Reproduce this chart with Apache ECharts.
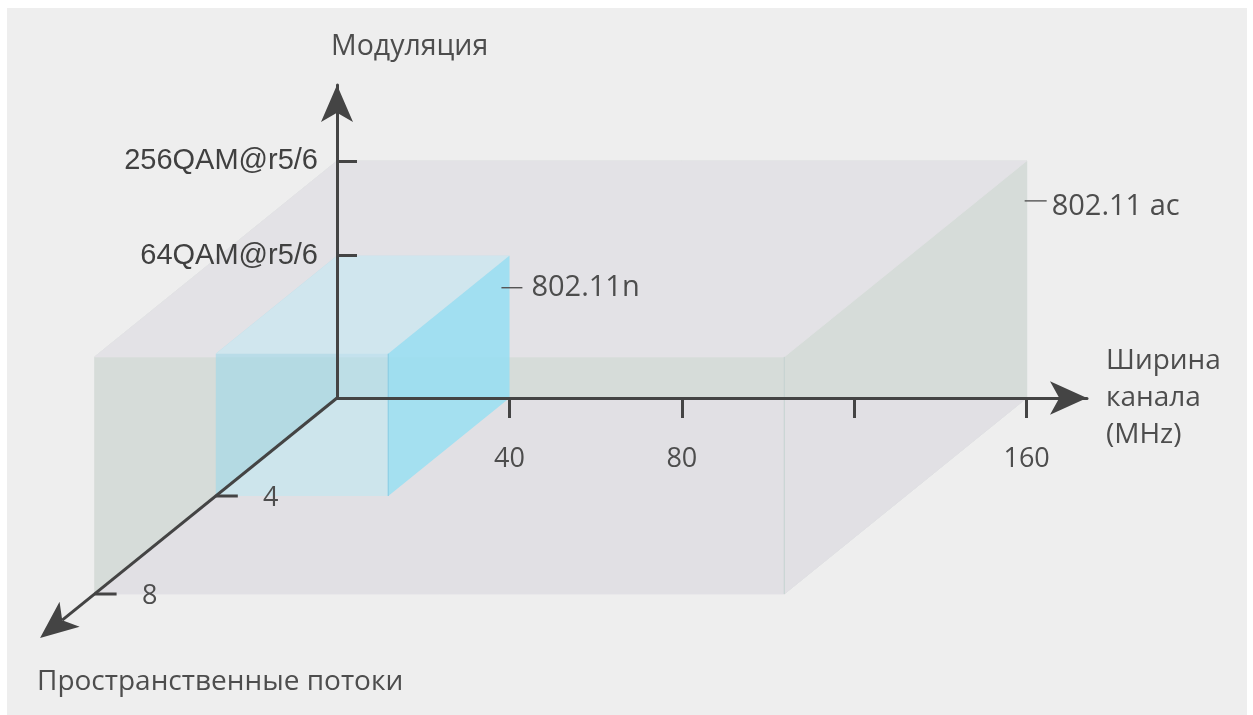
<!DOCTYPE html>
<html>
<head>
<meta charset="utf-8">
<script src="https://cdn.jsdelivr.net/npm/echarts@6/dist/echarts.min.js"></script>
<style>
html,body{margin:0;padding:0;background:#ffffff;}
#bg{position:absolute;left:7px;top:8px;width:1240px;height:707px;background:#eeeeee;}
#chart{position:absolute;left:0;top:0;width:1253px;height:715px;}
</style>
</head>
<body>
<div id="bg"></div>
<div id="chart"></div>
<script>
// ---------------- data ----------------
const standards = ['802.11 ac', '802.11n'];
const channelWidthMHz = [160, 40];
const modulationLevel = [5, 3];          // position on the modulation axis
const spatialStreams = [8, 4];
const widthTicks = [40, 80, 120, 160];
const widthTickLabels = [40, 80, 160];
const modulationTicks = [3, 5];
const modulationTickLabels = ['64QAM@r5/6', '256QAM@r5/6'];
const streamTicks = [4, 8];
const streamAxisEnd = 9.8;
const axisTitles = ['Модуляция', 'Ширина\nканала\n(MHz)', 'Пространственные потоки'];

// ---------------- styles ----------------
const FONT = '"Open Sans", "DejaVu Sans", sans-serif';
const INK = '#444444';
const TEXT = '#4d4d4d';
// oblique projection of one spatial stream, in pixels
const DEPTH_DX = -30.3, DEPTH_DY = 24.5;

const BOX_STYLES = [
  {
    order: ['back', 'left', 'right', 'top', 'bottom'],
    fill: { back: '#d6dcd9', left: '#d6dcd9', right: '#d6dcd9', top: '#e3e2e6', bottom: '#e1e0e4' },
    opaque: true,
    edge: 'rgba(196,210,208,1)',
    label: { dash: [-2, 20, 40], text: [25, 46] }
  },
  {
    order: ['back', 'left', 'top', 'bottom', 'right'],
    fill: { back: 'rgba(163,223,243,0.5)', left: 'rgba(156,216,234,0.6)', top: '#d0e6ee', bottom: '#cde5ec', right: 'rgba(149,221,242,0.75)' },
    opaque: false,
    edge: '#86cbe2',
    label: { dash: [-8, 13, 32], text: [22, 32] }
  }
];

const boxData = standards.map((s, i) => [channelWidthMHz[i], modulationLevel[i], spatialStreams[i]]);

function proj(api, x, y, d) {
  const p = api.coord([x, y]);
  return [p[0] + d * DEPTH_DX, p[1] + d * DEPTH_DY];
}

function renderBox(params, api) {
  const i = params.dataIndex;
  const w = api.value(0), m = api.value(1), s = api.value(2);
  const st = BOX_STYLES[i];
  const P = (x, y, d) => proj(api, x, y, d);
  const faces = {
    back:   [P(0, 0, 0), P(w, 0, 0), P(w, m, 0), P(0, m, 0)],
    left:   [P(0, 0, 0), P(0, m, 0), P(0, m, s), P(0, 0, s)],
    right:  [P(w, 0, 0), P(w, m, 0), P(w, m, s), P(w, 0, s)],
    top:    [P(0, m, 0), P(w, m, 0), P(w, m, s), P(0, m, s)],
    bottom: [P(0, 0, 0), P(w, 0, 0), P(w, 0, s), P(0, 0, s)]
  };
  const children = st.order.map(f => ({
    type: 'polygon',
    shape: { points: faces[f] },
    style: st.opaque
      ? { fill: st.fill[f], stroke: st.fill[f], lineWidth: 0.8 }
      : { fill: st.fill[f] }
  }));
  const e1 = P(w, 0, s), e2 = P(w, m, s);
  children.push({ type: 'line', shape: { x1: e1[0], y1: e1[1], x2: e2[0], y2: e2[1] },
    style: { stroke: st.edge, lineWidth: 1 } });
  const c = P(w, m, 0);
  const L = st.label;
  children.push({ type: 'line', shape: { x1: c[0] + L.dash[0], y1: c[1] + L.dash[2], x2: c[0] + L.dash[1], y2: c[1] + L.dash[2] },
    style: { stroke: '#555', lineWidth: 1.4 } });
  children.push({ type: 'text', x: c[0] + L.text[0], y: c[1] + L.text[1],
    style: { text: standards[i], fill: TEXT, fontSize: 29, fontFamily: FONT, align: 'left', verticalAlign: 'middle' } });
  return { type: 'group', children };
}

function renderDepthAxis(params, api) {
  const o = proj(api, 0, 0, 0);
  const tip = proj(api, 0, 0, streamAxisEnd);
  const len = Math.hypot(DEPTH_DX, DEPTH_DY);
  const u = [DEPTH_DX / len, DEPTH_DY / len];
  const n = [-u[1], u[0]];
  const AL = 38, AW = 32;
  const notch = [tip[0] - 0.75 * AL * u[0], tip[1] - 0.75 * AL * u[1]];
  const base = [tip[0] - AL * u[0], tip[1] - AL * u[1]];
  const c1 = [base[0] + AW / 2 * n[0], base[1] + AW / 2 * n[1]];
  const c2 = [base[0] - AW / 2 * n[0], base[1] - AW / 2 * n[1]];
  const children = [
    { type: 'line', shape: { x1: o[0], y1: o[1], x2: notch[0], y2: notch[1] }, style: { stroke: INK, lineWidth: 3 } },
    { type: 'polygon', shape: { points: [tip, c1, notch, c2] }, style: { fill: INK } }
  ];
  streamTicks.forEach(t => {
    const p = proj(api, 0, 0, t);
    children.push({ type: 'line', shape: { x1: p[0], y1: p[1], x2: p[0] + 22, y2: p[1] }, style: { stroke: INK, lineWidth: 3 } });
    children.push({ type: 'text', x: p[0] + 55, y: p[1] + 2,
      style: { text: String(t), fill: TEXT, fontSize: 27, fontFamily: FONT, align: 'center', verticalAlign: 'middle' } });
  });
  return { type: 'group', children };
}

const chart = echarts.init(document.getElementById('chart'));
chart.setOption({
  backgroundColor: 'transparent',
  animation: false,
  grid: { left: 337, right: 166, top: 85, bottom: 317, containLabel: false, outerBoundsMode: 'none' },
  xAxis: {
    type: 'value', min: 0, max: 174, z: 10,
    axisLine: { show: true, onZero: false, symbol: ['none', 'arrow'], symbolSize: [25, 37],
      lineStyle: { color: INK, width: 3 } },
    axisTick: { show: true, customValues: widthTicks, length: 20, inside: false, lineStyle: { color: INK, width: 3 } },
    axisLabel: { show: true, customValues: widthTickLabels, margin: 48, color: TEXT, fontSize: 27, fontFamily: FONT },
    splitLine: { show: false },
    name: axisTitles[1], nameLocation: 'end', nameGap: 19,
    nameTextStyle: { align: 'left', verticalAlign: 'middle', lineHeight: 37, fontSize: 28, fontFamily: FONT, color: TEXT }
  },
  yAxis: {
    type: 'value', min: 0, max: 6.6, z: 10,
    axisLine: { show: true, symbol: ['none', 'arrow'], symbolSize: [24, 37], lineStyle: { color: INK, width: 3 } },
    axisTick: { show: true, customValues: modulationTicks, length: 20, inside: true, lineStyle: { color: INK, width: 3 } },
    axisLabel: { show: true, customValues: modulationTicks, margin: 19, color: '#404040', fontSize: 29,
      fontFamily: '"Liberation Sans", Arial, sans-serif',
      formatter: v => modulationTickLabels[modulationTicks.indexOf(v)] || '' },
    splitLine: { show: false }
  },
  graphic: [
    { type: 'text', x: 331, y: 47, style: { text: axisTitles[0], fill: TEXT, fontSize: 28.5, fontFamily: FONT, align: 'left', verticalAlign: 'middle' } },
    { type: 'text', x: 37, y: 682, style: { text: axisTitles[2], fill: TEXT, fontSize: 28, fontFamily: FONT, align: 'left', verticalAlign: 'middle' } }
  ],
  series: [
    { type: 'custom', name: 'boxes', z: 3, silent: true, renderItem: renderBox, data: boxData, clip: false },
    { type: 'custom', name: 'streams', z: 12, silent: true, renderItem: renderDepthAxis, data: [[0]], clip: false }
  ]
});
</script>
</body>
</html>
